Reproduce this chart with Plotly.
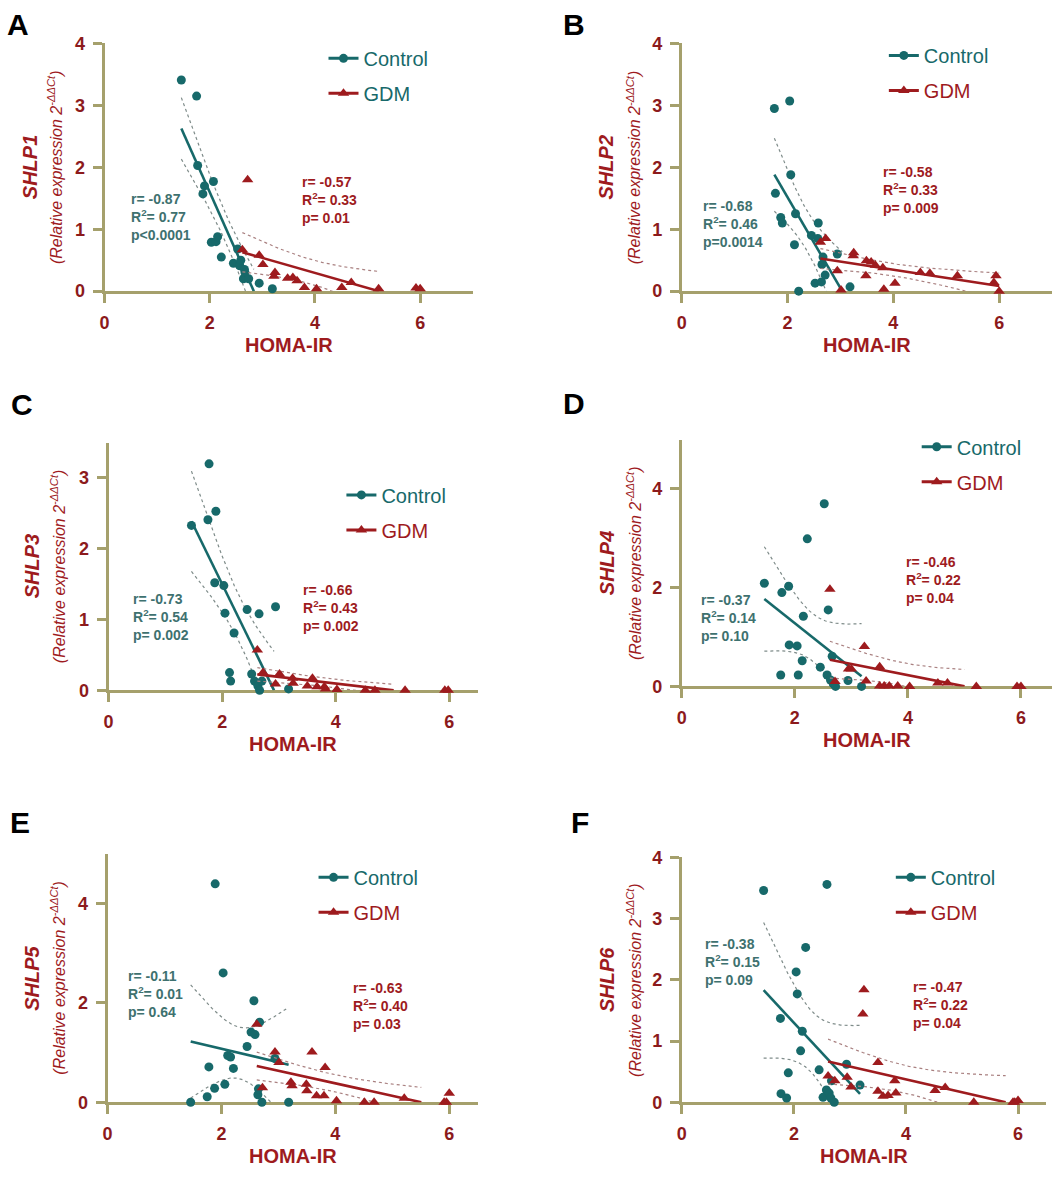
import numpy as np
import plotly.graph_objects as go

W, H = 1064, 1185

# ------------------------------------------------------------------ data
# HOMA-IR (x) vs relative expression 2^-ddCt (y)
a_ctrl_x = [1.46, 1.75, 1.77, 1.87, 1.90, 2.03, 2.07, 2.12, 2.15, 2.22, 2.45, 2.53, 2.57, 2.59, 2.64, 2.66, 2.67, 2.74, 2.94, 3.19]
a_ctrl_y = [3.41, 3.15, 2.03, 1.57, 1.70, 0.79, 1.77, 0.80, 0.88, 0.55, 0.45, 0.68, 0.41, 0.50, 0.20, 0.35, 0.30, 0.20, 0.13, 0.04]
a_gdm_x = [2.62, 2.72, 2.94, 3.01, 3.22, 3.24, 3.48, 3.58, 3.66, 3.80, 4.03, 4.51, 4.69, 5.21, 5.92, 6.00]
a_gdm_y = [0.67, 1.80, 0.58, 0.43, 0.24, 0.30, 0.21, 0.22, 0.17, 0.06, 0.04, 0.06, 0.14, 0.04, 0.05, 0.04]

b_ctrl_x = [1.75, 1.77, 1.87, 1.90, 2.04, 2.06, 2.13, 2.15, 2.21, 2.45, 2.52, 2.57, 2.58, 2.64, 2.65, 2.67, 2.71, 2.94, 3.18]
b_ctrl_y = [2.95, 1.58, 1.19, 1.10, 3.07, 1.88, 0.75, 1.25, 0.00, 0.90, 0.13, 0.85, 1.10, 0.15, 0.43, 0.55, 0.26, 0.60, 0.07]
b_gdm_x = [2.62, 2.72, 2.94, 3.01, 3.24, 3.25, 3.48, 3.49, 3.58, 3.66, 3.80, 3.82, 4.03, 4.51, 4.69, 5.21, 5.90, 5.94, 6.00]
b_gdm_y = [0.79, 0.85, 0.33, 0.02, 0.57, 0.62, 0.25, 0.49, 0.47, 0.42, 0.38, 0.03, 0.13, 0.30, 0.29, 0.25, 0.14, 0.25, 0.00]

c_ctrl_x = [1.46, 1.75, 1.77, 1.87, 1.89, 2.03, 2.05, 2.13, 2.15, 2.21, 2.44, 2.52, 2.57, 2.62, 2.63, 2.65, 2.66, 2.70, 2.94, 3.17]
c_ctrl_y = [2.33, 2.41, 3.20, 1.52, 2.53, 1.48, 1.09, 0.25, 0.13, 0.81, 1.14, 0.23, 0.13, 0.10, 0.06, 1.08, 0.00, 0.13, 1.18, 0.02]
c_gdm_x = [2.62, 2.72, 2.94, 3.01, 3.24, 3.25, 3.50, 3.59, 3.67, 3.80, 3.82, 4.02, 4.52, 4.69, 5.22, 5.92, 5.98]
c_gdm_y = [0.57, 0.25, 0.09, 0.23, 0.17, 0.10, 0.06, 0.17, 0.05, 0.05, 0.02, 0.01, 0.00, 0.00, 0.00, 0.00, 0.00]

d_ctrl_x = [1.46, 1.75, 1.77, 1.89, 1.90, 2.04, 2.06, 2.13, 2.15, 2.22, 2.45, 2.52, 2.57, 2.59, 2.63, 2.66, 2.68, 2.72, 2.94, 3.18]
d_ctrl_y = [2.09, 0.23, 1.90, 2.03, 0.84, 0.82, 0.23, 0.52, 1.42, 2.99, 0.39, 3.70, 0.23, 1.55, 0.13, 0.61, 0.05, 0.00, 0.12, 0.00]
d_gdm_x = [2.62, 2.71, 2.95, 3.00, 3.23, 3.26, 3.50, 3.50, 3.58, 3.67, 3.82, 4.03, 4.53, 4.70, 5.21, 5.93, 6.00]
d_gdm_y = [1.97, 0.10, 0.35, 0.35, 0.81, 0.11, 0.40, 0.01, 0.01, 0.01, 0.01, 0.00, 0.07, 0.07, 0.00, 0.00, 0.00]

e_ctrl_x = [1.46, 1.75, 1.78, 1.88, 1.89, 2.03, 2.06, 2.11, 2.16, 2.21, 2.45, 2.52, 2.57, 2.59, 2.64, 2.65, 2.67, 2.71, 2.94, 3.18]
e_ctrl_y = [0.00, 0.11, 0.71, 0.28, 4.39, 2.60, 0.36, 0.94, 0.91, 0.68, 1.12, 1.41, 2.04, 1.36, 0.15, 0.27, 1.61, 0.00, 0.88, 0.00]
e_gdm_x = [2.62, 2.72, 2.94, 3.01, 3.22, 3.24, 3.49, 3.50, 3.59, 3.67, 3.80, 3.82, 4.02, 4.51, 4.68, 5.21, 5.91, 5.95, 6.00]
e_gdm_y = [1.57, 0.29, 1.01, 0.80, 0.40, 0.33, 0.36, 0.23, 1.01, 0.13, 0.13, 0.70, 0.03, 0.00, 0.00, 0.08, 0.00, 0.00, 0.18]

f_ctrl_x = [1.46, 1.76, 1.77, 1.87, 1.90, 2.04, 2.06, 2.12, 2.15, 2.21, 2.45, 2.52, 2.58, 2.59, 2.63, 2.66, 2.67, 2.72, 2.94, 3.18]
f_ctrl_y = [3.46, 1.37, 0.14, 0.07, 0.48, 2.13, 1.77, 0.84, 1.16, 2.53, 0.53, 0.08, 0.20, 3.56, 0.15, 0.07, 0.35, 0.00, 0.62, 0.28]
f_gdm_x = [2.61, 2.73, 2.95, 3.02, 3.23, 3.25, 3.50, 3.50, 3.59, 3.68, 3.80, 3.82, 4.52, 4.70, 5.21, 5.91, 5.94, 6.00]
f_gdm_y = [0.43, 0.35, 0.41, 0.25, 1.44, 1.84, 0.65, 0.18, 0.10, 0.11, 0.35, 0.15, 0.19, 0.24, 0.00, 0.00, 0.00, 0.03]

genes = ["SHLP1", "SHLP2", "SHLP3", "SHLP4", "SHLP5", "SHLP6"]
letters = ["A", "B", "C", "D", "E", "F"]
ctrl_stats = [["-0.87", "0.77", "<0.0001"], ["-0.68", "0.46", "=0.0014"], ["-0.73", "0.54", "= 0.002"],
              ["-0.37", "0.14", "= 0.10"], ["-0.11", "0.01", "= 0.64"], ["-0.38", "0.15", "= 0.09"]]
gdm_stats = [["-0.57", "0.33", "= 0.01"], ["-0.58", "0.33", "= 0.009"], ["-0.66", "0.43", "= 0.002"],
             ["-0.46", "0.22", "= 0.04"], ["-0.63", "0.40", "= 0.03"], ["-0.47", "0.22", "= 0.04"]]
x_ticks = [0, 2, 4, 6]
y_ticks = [[0, 1, 2, 3, 4], [0, 1, 2, 3, 4], [0, 1, 2, 3], [0, 2, 4], [0, 2, 4], [0, 1, 2, 3, 4]]

# ------------------------------------------------------------------ style
TEAL = "#17696A"
RED = "#9E1B1E"
TICK_RED = "#8C1A1C"
AXIS = "#A5A06C"
STAT_TEAL = "#3E716F"
CI_TEAL = "#7F8C8A"
CI_RED = "#A98080"
FONT = "Liberation Sans, Arial, sans-serif"

T975 = {13: 2.160, 14: 2.145, 15: 2.131, 16: 2.120, 17: 2.110, 18: 2.101}

# geometry in page pixels: x-axis left/right, y-axis top/bottom, axis maxima
panels = [
    dict(cx=a_ctrl_x, cy=a_ctrl_y, gx=a_gdm_x, gy=a_gdm_y, xl=100, xr=470, xmax=7.0, yt=34, yb=286, ymax=4,
         letter=(13, 15), ttl=(25, 51), leg=(362, 67), stc=(125, 211), stg=(296, 193), gdm_teal=True),
    dict(cx=b_ctrl_x, cy=b_ctrl_y, gx=b_gdm_x, gy=b_gdm_y, xl=680, xr=1052, xmax=7.0, yt=34, yb=286, ymax=4,
         letter=(572, 15), ttl=(604, 632), leg=(925, 64), stc=(699, 218), stg=(880, 183), gdm_teal=False),
    dict(cx=c_ctrl_x, cy=c_ctrl_y, gx=c_gdm_x, gy=c_gdm_y, xl=104, xr=475, xmax=6.5, yt=440, yb=692, ymax=3.5,
         letter=(17, 401), ttl=(28, 54), leg=(380, 511), stc=(127, 617), stg=(297, 608), gdm_teal=False),
    dict(cx=d_ctrl_x, cy=d_ctrl_y, gx=d_gdm_x, gy=d_gdm_y, xl=680, xr=1052, xmax=6.55, yt=437, yb=688, ymax=5,
         letter=(572, 400), ttl=(605, 632), leg=(958, 462), stc=(697, 618), stg=(903, 580), gdm_teal=False),
    dict(cx=e_ctrl_x, cy=e_ctrl_y, gx=e_gdm_x, gy=e_gdm_y, xl=103, xr=475, xmax=6.5, yt=858, yb=1111, ymax=5,
         letter=(15, 826), ttl=(27, 53), leg=(352, 900), stc=(122, 1001), stg=(348, 1013), gdm_teal=False),
    dict(cx=f_ctrl_x, cy=f_ctrl_y, gx=f_gdm_x, gy=f_gdm_y, xl=680, xr=1046, xmax=6.5, yt=862, yb=1111, ymax=4,
         letter=(578, 826), ttl=(605, 632), leg=(932, 900), stc=(701, 968), stg=(910, 1012), gdm_teal=False),
]


def px(x):
    return x / W


def py(y):
    return 1 - y / H


def linear_fit(x, y):
    """OLS fit with 95% confidence band; drawn until the fit leaves the y>=0 range."""
    x = np.asarray(x, float)
    y = np.asarray(y, float)
    n = len(x)
    b, a = np.polyfit(x, y, 1)
    x0, x1 = x.min(), x.max()
    if b < 0 and a + b * x1 < 0:
        x1 = -a / b
    xs = np.linspace(x0, x1, 150)
    yf = a + b * xs
    res = y - (a + b * x)
    s = np.sqrt(np.sum(res ** 2) / (n - 2))
    sxx = np.sum((x - x.mean()) ** 2)
    hw = T975[n - 2] * s * np.sqrt(1.0 / n + (xs - x.mean()) ** 2 / sxx)
    return xs, yf, yf + hw, yf - hw


fig = go.Figure()
layout = dict(width=W, height=H, margin=dict(l=0, r=0, t=0, b=0),
              paper_bgcolor="white", plot_bgcolor="rgba(0,0,0,0)",
              font=dict(family=FONT), showlegend=True)
annotations = []

for i, p in enumerate(panels):
    k = "" if i == 0 else str(i + 1)
    xa, ya = "x" + k, "y" + k
    lg = "legend" + k

    for gx, gy, col, cicol, sym, msize in [(p["cx"], p["cy"], TEAL, CI_TEAL, "circle", 9),
                                          (p["gx"], p["gy"], RED, CI_RED, "triangle-up", 10)]:
        xs, yf, up, lo = linear_fit(gx, gy)
        for band in (up, lo):
            fig.add_trace(go.Scatter(x=xs, y=band, mode="lines", xaxis=xa, yaxis=ya, showlegend=False,
                                     hoverinfo="skip", line=dict(color=cicol, width=1.2, dash="dot")))
        fig.add_trace(go.Scatter(x=xs, y=yf, mode="lines", xaxis=xa, yaxis=ya, showlegend=False,
                                 hoverinfo="skip", line=dict(color=col, width=2.6)))
        fig.add_trace(go.Scatter(x=gx, y=gy, mode="markers", xaxis=xa, yaxis=ya, showlegend=False,
                                 cliponaxis=False, marker=dict(symbol=sym, size=msize, color=col,
                                                               line=dict(width=0))))

    # legend entries
    gdm_name = "GDM" if p["gdm_teal"] else "<span style='color:%s'>GDM</span>" % RED
    fig.add_trace(go.Scatter(x=[None], y=[None], mode="lines+markers", name="Control", xaxis=xa, yaxis=ya,
                             legend=lg, legendgroup=lg + "c",
                             line=dict(color=TEAL, width=3), marker=dict(symbol="circle", size=9, color=TEAL)))
    fig.add_trace(go.Scatter(x=[None], y=[None], mode="lines+markers", name=gdm_name, xaxis=xa, yaxis=ya,
                             legend=lg, legendgroup=lg + "g",
                             line=dict(color=RED, width=3), marker=dict(symbol="triangle-up", size=10, color=RED)))
    layout[lg] = dict(x=px(p["leg"][0] - 42), y=py(p["leg"][1]), xanchor="left", yanchor="middle",
                      bgcolor="rgba(0,0,0,0)", font=dict(size=20, color=TEAL, family=FONT),
                      tracegroupgap=6, itemclick=False, itemdoubleclick=False)

    axis_common = dict(showline=True, linecolor=AXIS, linewidth=3, ticks="outside", ticklen=9, tickwidth=3,
                       tickcolor=AXIS, showgrid=False, zeroline=False, layer="below traces",
                       tickfont=dict(family=FONT, size=18, color=TICK_RED))
    layout["xaxis" + k] = dict(domain=[px(p["xl"]), px(p["xr"])], range=[0, p["xmax"]], anchor=ya,
                               tickmode="array", tickvals=x_ticks,
                               ticktext=["<b>%d</b>" % v for v in x_ticks],
                               ticklabelstandoff=4, **axis_common)
    layout["yaxis" + k] = dict(domain=[py(p["yb"]), py(p["yt"])], range=[0, p["ymax"]], anchor=xa,
                               tickmode="array", tickvals=y_ticks[i],
                               ticktext=["<b>%d</b>" % v for v in y_ticks[i]],
                               ticklabelstandoff=4, **axis_common)

    # panel letter
    annotations.append(dict(text="<b>%s</b>" % letters[i], x=px(p["letter"][0]), y=py(p["letter"][1]),
                            xref="paper", yref="paper", showarrow=False, xanchor="center", yanchor="middle",
                            font=dict(size=30, color="black", family=FONT)))
    # y titles
    ymid = (p["yt"] + p["yb"]) / 2
    annotations.append(dict(text="<b><i>%s</i></b>" % genes[i], x=px(p["ttl"][0]), y=py(ymid),
                            xref="paper", yref="paper", showarrow=False, textangle=-90,
                            xanchor="center", yanchor="middle", font=dict(size=20, color=RED, family=FONT)))
    annotations.append(dict(text="<i>(Relative expression 2<sup>-ΔΔCt</sup>)</i>", x=px(p["ttl"][1]), y=py(ymid),
                            xref="paper", yref="paper", showarrow=False, textangle=-90,
                            xanchor="center", yanchor="middle", font=dict(size=16, color=RED, family=FONT)))
    # x title
    annotations.append(dict(text="<b>HOMA-IR</b>", x=px((p["xl"] + p["xr"]) / 2), y=py(p["yb"] + 55),
                            xref="paper", yref="paper", showarrow=False, xanchor="center", yanchor="middle",
                            font=dict(size=20, color=RED, family=FONT)))
    # statistics
    for st, pos, col in [(ctrl_stats[i], p["stc"], STAT_TEAL), (gdm_stats[i], p["stg"], RED)]:
        pline = "p" + st[2].replace("<", "&lt;")
        txt = "<b>r= %s<br>R<sup>2</sup>= %s<br>%s</b>" % (st[0], st[1], pline)
        annotations.append(dict(text=txt, x=px(pos[0]), y=py(pos[1]), xref="paper", yref="paper",
                                showarrow=False, xanchor="left", yanchor="middle", align="left",
                                font=dict(size=14, color=col, family=FONT)))

layout["annotations"] = annotations
fig.update_layout(**layout)
fig.write_html("out.html")
